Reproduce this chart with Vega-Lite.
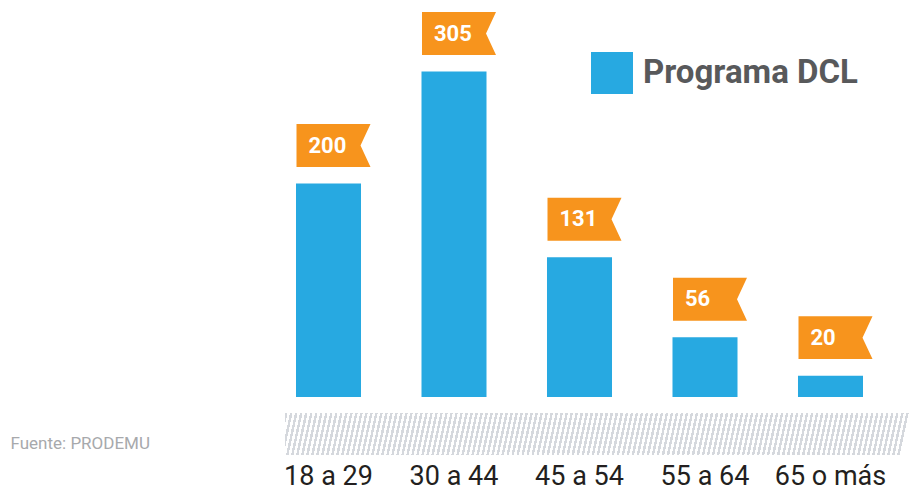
{
"$schema": "https://vega.github.io/schema/vega-lite/v6.json",
"width": 629,
"height": 397,
"autosize": "none",
"padding": {"left": 265, "top": 0, "right": 17, "bottom": 90},
"background": "white",
"config": {"view": {"stroke": null}, "font": "Roboto"},
"data": {"values": [
  {"edad": "18 a 29", "n": 200},
  {"edad": "30 a 44", "n": 305},
  {"edad": "45 a 54", "n": 131},
  {"edad": "55 a 64", "n": 56},
  {"edad": "65 o más", "n": 20}
]},
"layer": [
  {
    "data": {"values": [{"k": "fondo"}]},
    "mark": {"type": "rect", "xOffset": 20, "x2Offset": 17, "yOffset": 16, "y2Offset": 58,
      "fill": {"gradient": "linear", "x1": 0, "y1": 0, "x2": 1, "y2": 0.0144, "stops": [
{"offset":0,"color":"#d5d8dd"},{"offset":0.004,"color":"#d5d8dd"},{"offset":0.004,"color":"#fff"},{"offset":0.008,"color":"#fff"},
{"offset":0.008,"color":"#d5d8dd"},{"offset":0.012,"color":"#d5d8dd"},{"offset":0.012,"color":"#fff"},{"offset":0.016,"color":"#fff"},
{"offset":0.016,"color":"#d5d8dd"},{"offset":0.02,"color":"#d5d8dd"},{"offset":0.02,"color":"#fff"},{"offset":0.024,"color":"#fff"},
{"offset":0.024,"color":"#d5d8dd"},{"offset":0.028,"color":"#d5d8dd"},{"offset":0.028,"color":"#fff"},{"offset":0.032,"color":"#fff"},
{"offset":0.032,"color":"#d5d8dd"},{"offset":0.036,"color":"#d5d8dd"},{"offset":0.036,"color":"#fff"},{"offset":0.04,"color":"#fff"},
{"offset":0.04,"color":"#d5d8dd"},{"offset":0.044,"color":"#d5d8dd"},{"offset":0.044,"color":"#fff"},{"offset":0.048,"color":"#fff"},
{"offset":0.048,"color":"#d5d8dd"},{"offset":0.052,"color":"#d5d8dd"},{"offset":0.052,"color":"#fff"},{"offset":0.056,"color":"#fff"},
{"offset":0.056,"color":"#d5d8dd"},{"offset":0.06,"color":"#d5d8dd"},{"offset":0.06,"color":"#fff"},{"offset":0.064,"color":"#fff"},
{"offset":0.064,"color":"#d5d8dd"},{"offset":0.068,"color":"#d5d8dd"},{"offset":0.068,"color":"#fff"},{"offset":0.072,"color":"#fff"},
{"offset":0.072,"color":"#d5d8dd"},{"offset":0.076,"color":"#d5d8dd"},{"offset":0.076,"color":"#fff"},{"offset":0.08,"color":"#fff"},
{"offset":0.08,"color":"#d5d8dd"},{"offset":0.084,"color":"#d5d8dd"},{"offset":0.084,"color":"#fff"},{"offset":0.088,"color":"#fff"},
{"offset":0.088,"color":"#d5d8dd"},{"offset":0.092,"color":"#d5d8dd"},{"offset":0.092,"color":"#fff"},{"offset":0.096,"color":"#fff"},
{"offset":0.096,"color":"#d5d8dd"},{"offset":0.1,"color":"#d5d8dd"},{"offset":0.1,"color":"#fff"},{"offset":0.104,"color":"#fff"},
{"offset":0.104,"color":"#d5d8dd"},{"offset":0.108,"color":"#d5d8dd"},{"offset":0.108,"color":"#fff"},{"offset":0.112,"color":"#fff"},
{"offset":0.112,"color":"#d5d8dd"},{"offset":0.116,"color":"#d5d8dd"},{"offset":0.116,"color":"#fff"},{"offset":0.12,"color":"#fff"},
{"offset":0.12,"color":"#d5d8dd"},{"offset":0.124,"color":"#d5d8dd"},{"offset":0.124,"color":"#fff"},{"offset":0.128,"color":"#fff"},
{"offset":0.128,"color":"#d5d8dd"},{"offset":0.132,"color":"#d5d8dd"},{"offset":0.132,"color":"#fff"},{"offset":0.136,"color":"#fff"},
{"offset":0.136,"color":"#d5d8dd"},{"offset":0.14,"color":"#d5d8dd"},{"offset":0.14,"color":"#fff"},{"offset":0.144,"color":"#fff"},
{"offset":0.144,"color":"#d5d8dd"},{"offset":0.148,"color":"#d5d8dd"},{"offset":0.148,"color":"#fff"},{"offset":0.152,"color":"#fff"},
{"offset":0.152,"color":"#d5d8dd"},{"offset":0.156,"color":"#d5d8dd"},{"offset":0.156,"color":"#fff"},{"offset":0.16,"color":"#fff"},
{"offset":0.16,"color":"#d5d8dd"},{"offset":0.164,"color":"#d5d8dd"},{"offset":0.164,"color":"#fff"},{"offset":0.168,"color":"#fff"},
{"offset":0.168,"color":"#d5d8dd"},{"offset":0.172,"color":"#d5d8dd"},{"offset":0.172,"color":"#fff"},{"offset":0.176,"color":"#fff"},
{"offset":0.176,"color":"#d5d8dd"},{"offset":0.18,"color":"#d5d8dd"},{"offset":0.18,"color":"#fff"},{"offset":0.184,"color":"#fff"},
{"offset":0.184,"color":"#d5d8dd"},{"offset":0.188,"color":"#d5d8dd"},{"offset":0.188,"color":"#fff"},{"offset":0.192,"color":"#fff"},
{"offset":0.192,"color":"#d5d8dd"},{"offset":0.196,"color":"#d5d8dd"},{"offset":0.196,"color":"#fff"},{"offset":0.2,"color":"#fff"},
{"offset":0.2,"color":"#d5d8dd"},{"offset":0.204,"color":"#d5d8dd"},{"offset":0.204,"color":"#fff"},{"offset":0.208,"color":"#fff"},
{"offset":0.208,"color":"#d5d8dd"},{"offset":0.212,"color":"#d5d8dd"},{"offset":0.212,"color":"#fff"},{"offset":0.216,"color":"#fff"},
{"offset":0.216,"color":"#d5d8dd"},{"offset":0.22,"color":"#d5d8dd"},{"offset":0.22,"color":"#fff"},{"offset":0.224,"color":"#fff"},
{"offset":0.224,"color":"#d5d8dd"},{"offset":0.228,"color":"#d5d8dd"},{"offset":0.228,"color":"#fff"},{"offset":0.232,"color":"#fff"},
{"offset":0.232,"color":"#d5d8dd"},{"offset":0.236,"color":"#d5d8dd"},{"offset":0.236,"color":"#fff"},{"offset":0.24,"color":"#fff"},
{"offset":0.24,"color":"#d5d8dd"},{"offset":0.244,"color":"#d5d8dd"},{"offset":0.244,"color":"#fff"},{"offset":0.248,"color":"#fff"},
{"offset":0.248,"color":"#d5d8dd"},{"offset":0.252,"color":"#d5d8dd"},{"offset":0.252,"color":"#fff"},{"offset":0.256,"color":"#fff"},
{"offset":0.256,"color":"#d5d8dd"},{"offset":0.26,"color":"#d5d8dd"},{"offset":0.26,"color":"#fff"},{"offset":0.264,"color":"#fff"},
{"offset":0.264,"color":"#d5d8dd"},{"offset":0.268,"color":"#d5d8dd"},{"offset":0.268,"color":"#fff"},{"offset":0.272,"color":"#fff"},
{"offset":0.272,"color":"#d5d8dd"},{"offset":0.276,"color":"#d5d8dd"},{"offset":0.276,"color":"#fff"},{"offset":0.28,"color":"#fff"},
{"offset":0.28,"color":"#d5d8dd"},{"offset":0.284,"color":"#d5d8dd"},{"offset":0.284,"color":"#fff"},{"offset":0.288,"color":"#fff"},
{"offset":0.288,"color":"#d5d8dd"},{"offset":0.292,"color":"#d5d8dd"},{"offset":0.292,"color":"#fff"},{"offset":0.296,"color":"#fff"},
{"offset":0.296,"color":"#d5d8dd"},{"offset":0.3,"color":"#d5d8dd"},{"offset":0.3,"color":"#fff"},{"offset":0.304,"color":"#fff"},
{"offset":0.304,"color":"#d5d8dd"},{"offset":0.308,"color":"#d5d8dd"},{"offset":0.308,"color":"#fff"},{"offset":0.312,"color":"#fff"},
{"offset":0.312,"color":"#d5d8dd"},{"offset":0.316,"color":"#d5d8dd"},{"offset":0.316,"color":"#fff"},{"offset":0.32,"color":"#fff"},
{"offset":0.32,"color":"#d5d8dd"},{"offset":0.324,"color":"#d5d8dd"},{"offset":0.324,"color":"#fff"},{"offset":0.328,"color":"#fff"},
{"offset":0.328,"color":"#d5d8dd"},{"offset":0.332,"color":"#d5d8dd"},{"offset":0.332,"color":"#fff"},{"offset":0.336,"color":"#fff"},
{"offset":0.336,"color":"#d5d8dd"},{"offset":0.34,"color":"#d5d8dd"},{"offset":0.34,"color":"#fff"},{"offset":0.344,"color":"#fff"},
{"offset":0.344,"color":"#d5d8dd"},{"offset":0.348,"color":"#d5d8dd"},{"offset":0.348,"color":"#fff"},{"offset":0.352,"color":"#fff"},
{"offset":0.352,"color":"#d5d8dd"},{"offset":0.356,"color":"#d5d8dd"},{"offset":0.356,"color":"#fff"},{"offset":0.36,"color":"#fff"},
{"offset":0.36,"color":"#d5d8dd"},{"offset":0.364,"color":"#d5d8dd"},{"offset":0.364,"color":"#fff"},{"offset":0.368,"color":"#fff"},
{"offset":0.368,"color":"#d5d8dd"},{"offset":0.372,"color":"#d5d8dd"},{"offset":0.372,"color":"#fff"},{"offset":0.376,"color":"#fff"},
{"offset":0.376,"color":"#d5d8dd"},{"offset":0.38,"color":"#d5d8dd"},{"offset":0.38,"color":"#fff"},{"offset":0.384,"color":"#fff"},
{"offset":0.384,"color":"#d5d8dd"},{"offset":0.388,"color":"#d5d8dd"},{"offset":0.388,"color":"#fff"},{"offset":0.392,"color":"#fff"},
{"offset":0.392,"color":"#d5d8dd"},{"offset":0.396,"color":"#d5d8dd"},{"offset":0.396,"color":"#fff"},{"offset":0.4,"color":"#fff"},
{"offset":0.4,"color":"#d5d8dd"},{"offset":0.404,"color":"#d5d8dd"},{"offset":0.404,"color":"#fff"},{"offset":0.408,"color":"#fff"},
{"offset":0.408,"color":"#d5d8dd"},{"offset":0.412,"color":"#d5d8dd"},{"offset":0.412,"color":"#fff"},{"offset":0.416,"color":"#fff"},
{"offset":0.416,"color":"#d5d8dd"},{"offset":0.42,"color":"#d5d8dd"},{"offset":0.42,"color":"#fff"},{"offset":0.424,"color":"#fff"},
{"offset":0.424,"color":"#d5d8dd"},{"offset":0.428,"color":"#d5d8dd"},{"offset":0.428,"color":"#fff"},{"offset":0.432,"color":"#fff"},
{"offset":0.432,"color":"#d5d8dd"},{"offset":0.436,"color":"#d5d8dd"},{"offset":0.436,"color":"#fff"},{"offset":0.44,"color":"#fff"},
{"offset":0.44,"color":"#d5d8dd"},{"offset":0.444,"color":"#d5d8dd"},{"offset":0.444,"color":"#fff"},{"offset":0.448,"color":"#fff"},
{"offset":0.448,"color":"#d5d8dd"},{"offset":0.452,"color":"#d5d8dd"},{"offset":0.452,"color":"#fff"},{"offset":0.456,"color":"#fff"},
{"offset":0.456,"color":"#d5d8dd"},{"offset":0.46,"color":"#d5d8dd"},{"offset":0.46,"color":"#fff"},{"offset":0.464,"color":"#fff"},
{"offset":0.464,"color":"#d5d8dd"},{"offset":0.468,"color":"#d5d8dd"},{"offset":0.468,"color":"#fff"},{"offset":0.472,"color":"#fff"},
{"offset":0.472,"color":"#d5d8dd"},{"offset":0.476,"color":"#d5d8dd"},{"offset":0.476,"color":"#fff"},{"offset":0.48,"color":"#fff"},
{"offset":0.48,"color":"#d5d8dd"},{"offset":0.484,"color":"#d5d8dd"},{"offset":0.484,"color":"#fff"},{"offset":0.488,"color":"#fff"},
{"offset":0.488,"color":"#d5d8dd"},{"offset":0.492,"color":"#d5d8dd"},{"offset":0.492,"color":"#fff"},{"offset":0.496,"color":"#fff"},
{"offset":0.496,"color":"#d5d8dd"},{"offset":0.5,"color":"#d5d8dd"},{"offset":0.5,"color":"#fff"},{"offset":0.504,"color":"#fff"},
{"offset":0.504,"color":"#d5d8dd"},{"offset":0.508,"color":"#d5d8dd"},{"offset":0.508,"color":"#fff"},{"offset":0.512,"color":"#fff"},
{"offset":0.512,"color":"#d5d8dd"},{"offset":0.516,"color":"#d5d8dd"},{"offset":0.516,"color":"#fff"},{"offset":0.52,"color":"#fff"},
{"offset":0.52,"color":"#d5d8dd"},{"offset":0.524,"color":"#d5d8dd"},{"offset":0.524,"color":"#fff"},{"offset":0.528,"color":"#fff"},
{"offset":0.528,"color":"#d5d8dd"},{"offset":0.532,"color":"#d5d8dd"},{"offset":0.532,"color":"#fff"},{"offset":0.536,"color":"#fff"},
{"offset":0.536,"color":"#d5d8dd"},{"offset":0.54,"color":"#d5d8dd"},{"offset":0.54,"color":"#fff"},{"offset":0.544,"color":"#fff"},
{"offset":0.544,"color":"#d5d8dd"},{"offset":0.548,"color":"#d5d8dd"},{"offset":0.548,"color":"#fff"},{"offset":0.552,"color":"#fff"},
{"offset":0.552,"color":"#d5d8dd"},{"offset":0.556,"color":"#d5d8dd"},{"offset":0.556,"color":"#fff"},{"offset":0.56,"color":"#fff"},
{"offset":0.56,"color":"#d5d8dd"},{"offset":0.564,"color":"#d5d8dd"},{"offset":0.564,"color":"#fff"},{"offset":0.568,"color":"#fff"},
{"offset":0.568,"color":"#d5d8dd"},{"offset":0.572,"color":"#d5d8dd"},{"offset":0.572,"color":"#fff"},{"offset":0.576,"color":"#fff"},
{"offset":0.576,"color":"#d5d8dd"},{"offset":0.58,"color":"#d5d8dd"},{"offset":0.58,"color":"#fff"},{"offset":0.584,"color":"#fff"},
{"offset":0.584,"color":"#d5d8dd"},{"offset":0.588,"color":"#d5d8dd"},{"offset":0.588,"color":"#fff"},{"offset":0.592,"color":"#fff"},
{"offset":0.592,"color":"#d5d8dd"},{"offset":0.596,"color":"#d5d8dd"},{"offset":0.596,"color":"#fff"},{"offset":0.6,"color":"#fff"},
{"offset":0.6,"color":"#d5d8dd"},{"offset":0.604,"color":"#d5d8dd"},{"offset":0.604,"color":"#fff"},{"offset":0.608,"color":"#fff"},
{"offset":0.608,"color":"#d5d8dd"},{"offset":0.612,"color":"#d5d8dd"},{"offset":0.612,"color":"#fff"},{"offset":0.616,"color":"#fff"},
{"offset":0.616,"color":"#d5d8dd"},{"offset":0.62,"color":"#d5d8dd"},{"offset":0.62,"color":"#fff"},{"offset":0.624,"color":"#fff"},
{"offset":0.624,"color":"#d5d8dd"},{"offset":0.628,"color":"#d5d8dd"},{"offset":0.628,"color":"#fff"},{"offset":0.632,"color":"#fff"},
{"offset":0.632,"color":"#d5d8dd"},{"offset":0.636,"color":"#d5d8dd"},{"offset":0.636,"color":"#fff"},{"offset":0.64,"color":"#fff"},
{"offset":0.64,"color":"#d5d8dd"},{"offset":0.644,"color":"#d5d8dd"},{"offset":0.644,"color":"#fff"},{"offset":0.648,"color":"#fff"},
{"offset":0.648,"color":"#d5d8dd"},{"offset":0.652,"color":"#d5d8dd"},{"offset":0.652,"color":"#fff"},{"offset":0.656,"color":"#fff"},
{"offset":0.656,"color":"#d5d8dd"},{"offset":0.66,"color":"#d5d8dd"},{"offset":0.66,"color":"#fff"},{"offset":0.664,"color":"#fff"},
{"offset":0.664,"color":"#d5d8dd"},{"offset":0.668,"color":"#d5d8dd"},{"offset":0.668,"color":"#fff"},{"offset":0.672,"color":"#fff"},
{"offset":0.672,"color":"#d5d8dd"},{"offset":0.676,"color":"#d5d8dd"},{"offset":0.676,"color":"#fff"},{"offset":0.68,"color":"#fff"},
{"offset":0.68,"color":"#d5d8dd"},{"offset":0.684,"color":"#d5d8dd"},{"offset":0.684,"color":"#fff"},{"offset":0.688,"color":"#fff"},
{"offset":0.688,"color":"#d5d8dd"},{"offset":0.692,"color":"#d5d8dd"},{"offset":0.692,"color":"#fff"},{"offset":0.696,"color":"#fff"},
{"offset":0.696,"color":"#d5d8dd"},{"offset":0.7,"color":"#d5d8dd"},{"offset":0.7,"color":"#fff"},{"offset":0.704,"color":"#fff"},
{"offset":0.704,"color":"#d5d8dd"},{"offset":0.708,"color":"#d5d8dd"},{"offset":0.708,"color":"#fff"},{"offset":0.712,"color":"#fff"},
{"offset":0.712,"color":"#d5d8dd"},{"offset":0.716,"color":"#d5d8dd"},{"offset":0.716,"color":"#fff"},{"offset":0.72,"color":"#fff"},
{"offset":0.72,"color":"#d5d8dd"},{"offset":0.724,"color":"#d5d8dd"},{"offset":0.724,"color":"#fff"},{"offset":0.728,"color":"#fff"},
{"offset":0.728,"color":"#d5d8dd"},{"offset":0.732,"color":"#d5d8dd"},{"offset":0.732,"color":"#fff"},{"offset":0.736,"color":"#fff"},
{"offset":0.736,"color":"#d5d8dd"},{"offset":0.74,"color":"#d5d8dd"},{"offset":0.74,"color":"#fff"},{"offset":0.744,"color":"#fff"},
{"offset":0.744,"color":"#d5d8dd"},{"offset":0.748,"color":"#d5d8dd"},{"offset":0.748,"color":"#fff"},{"offset":0.752,"color":"#fff"},
{"offset":0.752,"color":"#d5d8dd"},{"offset":0.756,"color":"#d5d8dd"},{"offset":0.756,"color":"#fff"},{"offset":0.76,"color":"#fff"},
{"offset":0.76,"color":"#d5d8dd"},{"offset":0.764,"color":"#d5d8dd"},{"offset":0.764,"color":"#fff"},{"offset":0.768,"color":"#fff"},
{"offset":0.768,"color":"#d5d8dd"},{"offset":0.772,"color":"#d5d8dd"},{"offset":0.772,"color":"#fff"},{"offset":0.776,"color":"#fff"},
{"offset":0.776,"color":"#d5d8dd"},{"offset":0.78,"color":"#d5d8dd"},{"offset":0.78,"color":"#fff"},{"offset":0.784,"color":"#fff"},
{"offset":0.784,"color":"#d5d8dd"},{"offset":0.788,"color":"#d5d8dd"},{"offset":0.788,"color":"#fff"},{"offset":0.792,"color":"#fff"},
{"offset":0.792,"color":"#d5d8dd"},{"offset":0.796,"color":"#d5d8dd"},{"offset":0.796,"color":"#fff"},{"offset":0.8,"color":"#fff"},
{"offset":0.8,"color":"#d5d8dd"},{"offset":0.804,"color":"#d5d8dd"},{"offset":0.804,"color":"#fff"},{"offset":0.808,"color":"#fff"},
{"offset":0.808,"color":"#d5d8dd"},{"offset":0.812,"color":"#d5d8dd"},{"offset":0.812,"color":"#fff"},{"offset":0.816,"color":"#fff"},
{"offset":0.816,"color":"#d5d8dd"},{"offset":0.82,"color":"#d5d8dd"},{"offset":0.82,"color":"#fff"},{"offset":0.824,"color":"#fff"},
{"offset":0.824,"color":"#d5d8dd"},{"offset":0.828,"color":"#d5d8dd"},{"offset":0.828,"color":"#fff"},{"offset":0.832,"color":"#fff"},
{"offset":0.832,"color":"#d5d8dd"},{"offset":0.836,"color":"#d5d8dd"},{"offset":0.836,"color":"#fff"},{"offset":0.84,"color":"#fff"},
{"offset":0.84,"color":"#d5d8dd"},{"offset":0.844,"color":"#d5d8dd"},{"offset":0.844,"color":"#fff"},{"offset":0.848,"color":"#fff"},
{"offset":0.848,"color":"#d5d8dd"},{"offset":0.852,"color":"#d5d8dd"},{"offset":0.852,"color":"#fff"},{"offset":0.856,"color":"#fff"},
{"offset":0.856,"color":"#d5d8dd"},{"offset":0.86,"color":"#d5d8dd"},{"offset":0.86,"color":"#fff"},{"offset":0.864,"color":"#fff"},
{"offset":0.864,"color":"#d5d8dd"},{"offset":0.868,"color":"#d5d8dd"},{"offset":0.868,"color":"#fff"},{"offset":0.872,"color":"#fff"},
{"offset":0.872,"color":"#d5d8dd"},{"offset":0.876,"color":"#d5d8dd"},{"offset":0.876,"color":"#fff"},{"offset":0.88,"color":"#fff"},
{"offset":0.88,"color":"#d5d8dd"},{"offset":0.884,"color":"#d5d8dd"},{"offset":0.884,"color":"#fff"},{"offset":0.888,"color":"#fff"},
{"offset":0.888,"color":"#d5d8dd"},{"offset":0.892,"color":"#d5d8dd"},{"offset":0.892,"color":"#fff"},{"offset":0.896,"color":"#fff"},
{"offset":0.896,"color":"#d5d8dd"},{"offset":0.9,"color":"#d5d8dd"},{"offset":0.9,"color":"#fff"},{"offset":0.904,"color":"#fff"},
{"offset":0.904,"color":"#d5d8dd"},{"offset":0.908,"color":"#d5d8dd"},{"offset":0.908,"color":"#fff"},{"offset":0.912,"color":"#fff"},
{"offset":0.912,"color":"#d5d8dd"},{"offset":0.916,"color":"#d5d8dd"},{"offset":0.916,"color":"#fff"},{"offset":0.92,"color":"#fff"},
{"offset":0.92,"color":"#d5d8dd"},{"offset":0.924,"color":"#d5d8dd"},{"offset":0.924,"color":"#fff"},{"offset":0.928,"color":"#fff"},
{"offset":0.928,"color":"#d5d8dd"},{"offset":0.932,"color":"#d5d8dd"},{"offset":0.932,"color":"#fff"},{"offset":0.936,"color":"#fff"},
{"offset":0.936,"color":"#d5d8dd"},{"offset":0.94,"color":"#d5d8dd"},{"offset":0.94,"color":"#fff"},{"offset":0.944,"color":"#fff"},
{"offset":0.944,"color":"#d5d8dd"},{"offset":0.948,"color":"#d5d8dd"},{"offset":0.948,"color":"#fff"},{"offset":0.952,"color":"#fff"},
{"offset":0.952,"color":"#d5d8dd"},{"offset":0.956,"color":"#d5d8dd"},{"offset":0.956,"color":"#fff"},{"offset":0.96,"color":"#fff"},
{"offset":0.96,"color":"#d5d8dd"},{"offset":0.964,"color":"#d5d8dd"},{"offset":0.964,"color":"#fff"},{"offset":0.968,"color":"#fff"},
{"offset":0.968,"color":"#d5d8dd"},{"offset":0.972,"color":"#d5d8dd"},{"offset":0.972,"color":"#fff"},{"offset":0.976,"color":"#fff"},
{"offset":0.976,"color":"#d5d8dd"},{"offset":0.98,"color":"#d5d8dd"},{"offset":0.98,"color":"#fff"},{"offset":0.984,"color":"#fff"},
{"offset":0.984,"color":"#d5d8dd"},{"offset":0.988,"color":"#d5d8dd"},{"offset":0.988,"color":"#fff"},{"offset":0.992,"color":"#fff"},
{"offset":0.992,"color":"#d5d8dd"},{"offset":0.996,"color":"#d5d8dd"},{"offset":0.996,"color":"#fff"},{"offset":1,"color":"#fff"}
      ]}},
    "encoding": {
      "x": {"value": 0},
      "x2": {"value": "width"},
      "y": {"value": "height"},
      "y2": {"value": "height"}
    }
  },
  {
    "mark": {"type": "bar"},
    "encoding": {
      "x": {"field": "edad", "type": "nominal", "sort": null,
        "scale": {"paddingInner": 0.482, "paddingOuter": 0.247},
        "title": "Fuente: PRODEMU",
        "axis": {"domain": false, "ticks": false, "tickSize": 0, "labelAngle": 0,
          "labelPadding": 87, "labelBaseline": "alphabetic",
          "labelFont": "Roboto", "labelFontSize": 27, "labelColor": "#231f20",
          "titleFont": "Roboto", "titleFontSize": 17, "titleFontWeight": "normal",
          "titleColor": "#a7a9ac", "titleX": -255, "titleY": 51, "titleAlign": "left",
          "titleAnchor": "start", "titleBaseline": "alphabetic"}},
      "y": {"field": "n", "type": "quantitative", "scale": {"domain": [0, 372], "nice": false}, "axis": null},
      "color": {"datum": "Programa DCL", "scale": {"range": ["#27a9e1"]},
        "legend": {"title": null, "orient": "none", "legendX": 326, "legendY": 52, "padding": 0,
          "symbolType": "square", "symbolSize": 1764, "symbolStrokeWidth": 0,
          "labelFont": "Roboto", "labelFontWeight": "bold", "labelFontSize": 33, "labelLimit": 400,
          "labelColor": "#58595b", "labelOffset": 10}}
    }
  },
  {
    "mark": {"type": "point", "shape": "M-1,-0.58L1,-0.58L0.73,0L1,0.58L-1,0.58Z", "size": 5476,
      "filled": true, "fill": "#f7941d", "opacity": 1, "strokeWidth": 0, "xOffset": 5, "yOffset": -38},
    "encoding": {
      "x": {"field": "edad", "type": "nominal", "sort": null},
      "y": {"field": "n", "type": "quantitative"}
    }
  },
  {
    "mark": {"type": "text", "align": "left", "baseline": "middle", "dx": -20, "yOffset": -38,
      "font": "Roboto", "fontWeight": "bold", "fontSize": 22, "fill": "#ffffff"},
    "encoding": {
      "x": {"field": "edad", "type": "nominal", "sort": null},
      "y": {"field": "n", "type": "quantitative"},
      "text": {"field": "n", "type": "quantitative"}
    }
  }
]
}
